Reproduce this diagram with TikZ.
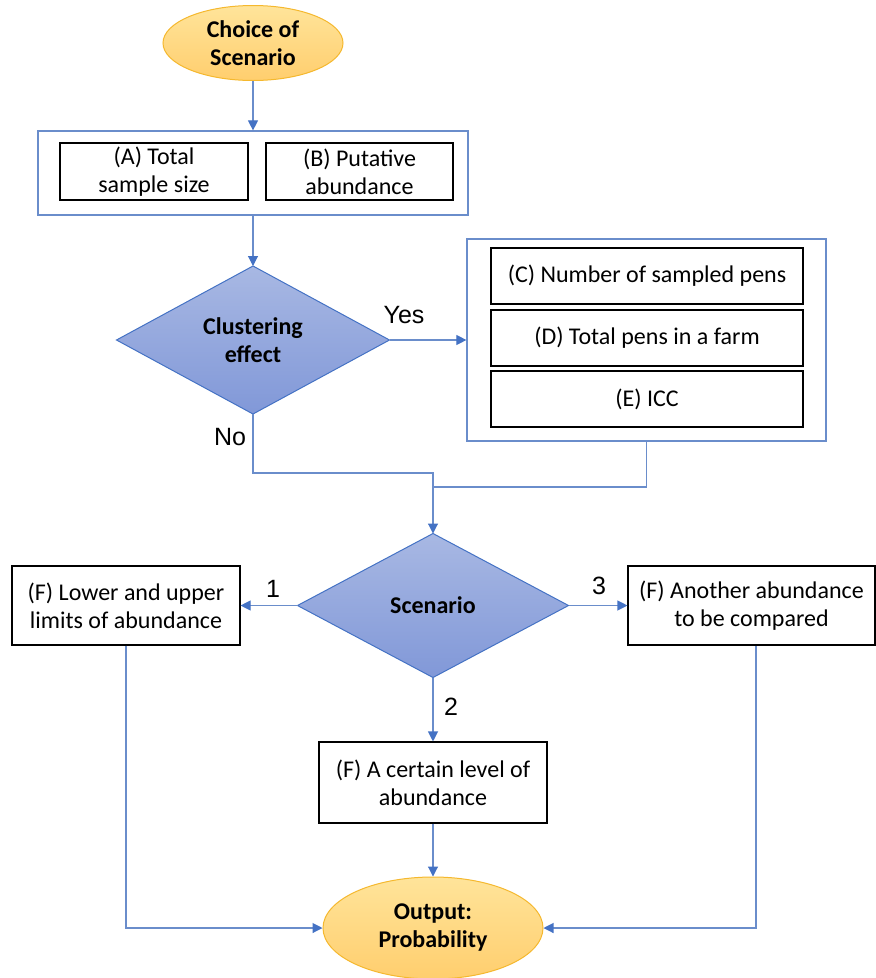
\documentclass[tikz,border=0pt]{standalone}
\usepackage{fontspec}
\setmainfont{Carlito}
\newfontfamily\labelfont{Liberation Sans}
\usetikzlibrary{shapes.geometric,arrows.meta}
\definecolor{lineblue}{HTML}{4472C4}
\definecolor{boxblue}{HTML}{6A8DCB}
\definecolor{ellborder}{HTML}{F5B82E}
\definecolor{elltop}{HTML}{FFE49A}
\definecolor{ellbot}{HTML}{FFCE6E}
\definecolor{diatop}{HTML}{A8B8E3}
\definecolor{diabot}{HTML}{8198D8}
\tikzset{
  txt/.style={font=\fontsize{24}{28}\selectfont, align=center, text=black},
  btxt/.style={font=\fontsize{24}{28}\selectfont\bfseries, align=center, text=black},
  oval/.style={ellipse, draw=ellborder, line width=1pt, top color=elltop, bottom color=ellbot, inner sep=0pt, btxt},
  dia/.style={diamond, draw=lineblue, line width=1pt, top color=diatop, bottom color=diabot, inner sep=0pt, outer sep=0pt, btxt},
  blackbox/.style={rectangle, draw=black, line width=1.1pt, inner sep=0pt, txt},
  groupbox/.style={rectangle, draw=boxblue, line width=1.2pt, inner sep=0pt},
  conn/.style={draw=boxblue, line width=1.1pt},
  arr/.style={conn, -{Triangle[width=10pt,length=10pt,fill=lineblue,color=lineblue]}},
  lab/.style={font=\labelfont\fontsize{25}{28}\selectfont, text=black, inner sep=0pt}
}
\begin{document}
\begin{tikzpicture}[x=1pt,y=-1pt]
\useasboundingbox (0,0) rectangle (876,978);
% top ellipse
\node[oval, minimum width=180pt, minimum height=75pt] (top) at (253,43) {Choice of\\Scenario};
% group A/B
\node[groupbox, minimum width=430pt, minimum height=84pt] (ab) at (253,173) {};
\node[blackbox, minimum width=188pt, minimum height=57pt] (A) at (154,171.5) {(A) Total\\sample size};
\node[blackbox, minimum width=187pt, minimum height=57pt] (B) at (359.5,171.5) {(B) Putative\\abundance};
% clustering diamond
\node[dia, minimum width=273pt, minimum height=148pt] (clust) at (253,340) {Clustering\\effect};
% group C/D/E
\node[groupbox, minimum width=359pt, minimum height=202pt] (cde) at (646.5,340) {};
\node[blackbox, minimum width=312pt, minimum height=56pt] (C) at (647,276) {(C) Number of sampled pens};
\node[blackbox, minimum width=312pt, minimum height=56pt] (D) at (647,338) {(D) Total pens in a farm};
\node[blackbox, minimum width=312pt, minimum height=56pt] (E) at (647,399) {(E) ICC};
% scenario diamond
\node[dia, minimum width=271pt, minimum height=144pt] (scen) at (433,605.5) {Scenario};
% F boxes
\node[blackbox, minimum width=228pt, minimum height=79pt] (f1) at (126,605.5) {(F) Lower and upper\\limits of abundance};
\node[blackbox, minimum width=247pt, minimum height=79pt] (f3) at (751.5,605.5) {(F) Another abundance\\to be compared};
\node[blackbox, minimum width=228pt, minimum height=81pt] (f2) at (433,782.5) {(F) A certain level of\\abundance};
% output
\node[oval, minimum width=220pt, minimum height=102pt] (out) at (433,928) {Output:\\Probability};
% junction coordinates
\coordinate (j1) at (433,473);
\coordinate (j2) at (433,487);
\coordinate (f3b) at (756,646);
% connectors
\draw[arr] (top.south) -- (ab.north);
\draw[arr] (ab.south) -- (clust.north);
\draw[arr] (clust.east) -- (cde.west);
\draw[arr] (clust.south) |- (j1) -- (scen.north);
\draw[conn] (cde.south) |- (j2);
\draw[arr] (scen.west) -- (f1.east);
\draw[arr] (scen.east) -- (f3.west);
\draw[arr] (scen.south) -- (f2.north);
\draw[arr] (f2.south) -- (out.north);
\draw[arr] (f1.south) |- (out.west);
\draw[arr] (f3b) |- (out.east);
% labels
\node[lab] (yes) at (404,315) {Yes};
\node[lab] (no) at (230,437) {No};
\node[lab] (l1) at (273,589) {1};
\node[lab] (l3) at (599,586) {3};
\node[lab] (l2) at (451,707) {2};
\end{tikzpicture}
\end{document}
